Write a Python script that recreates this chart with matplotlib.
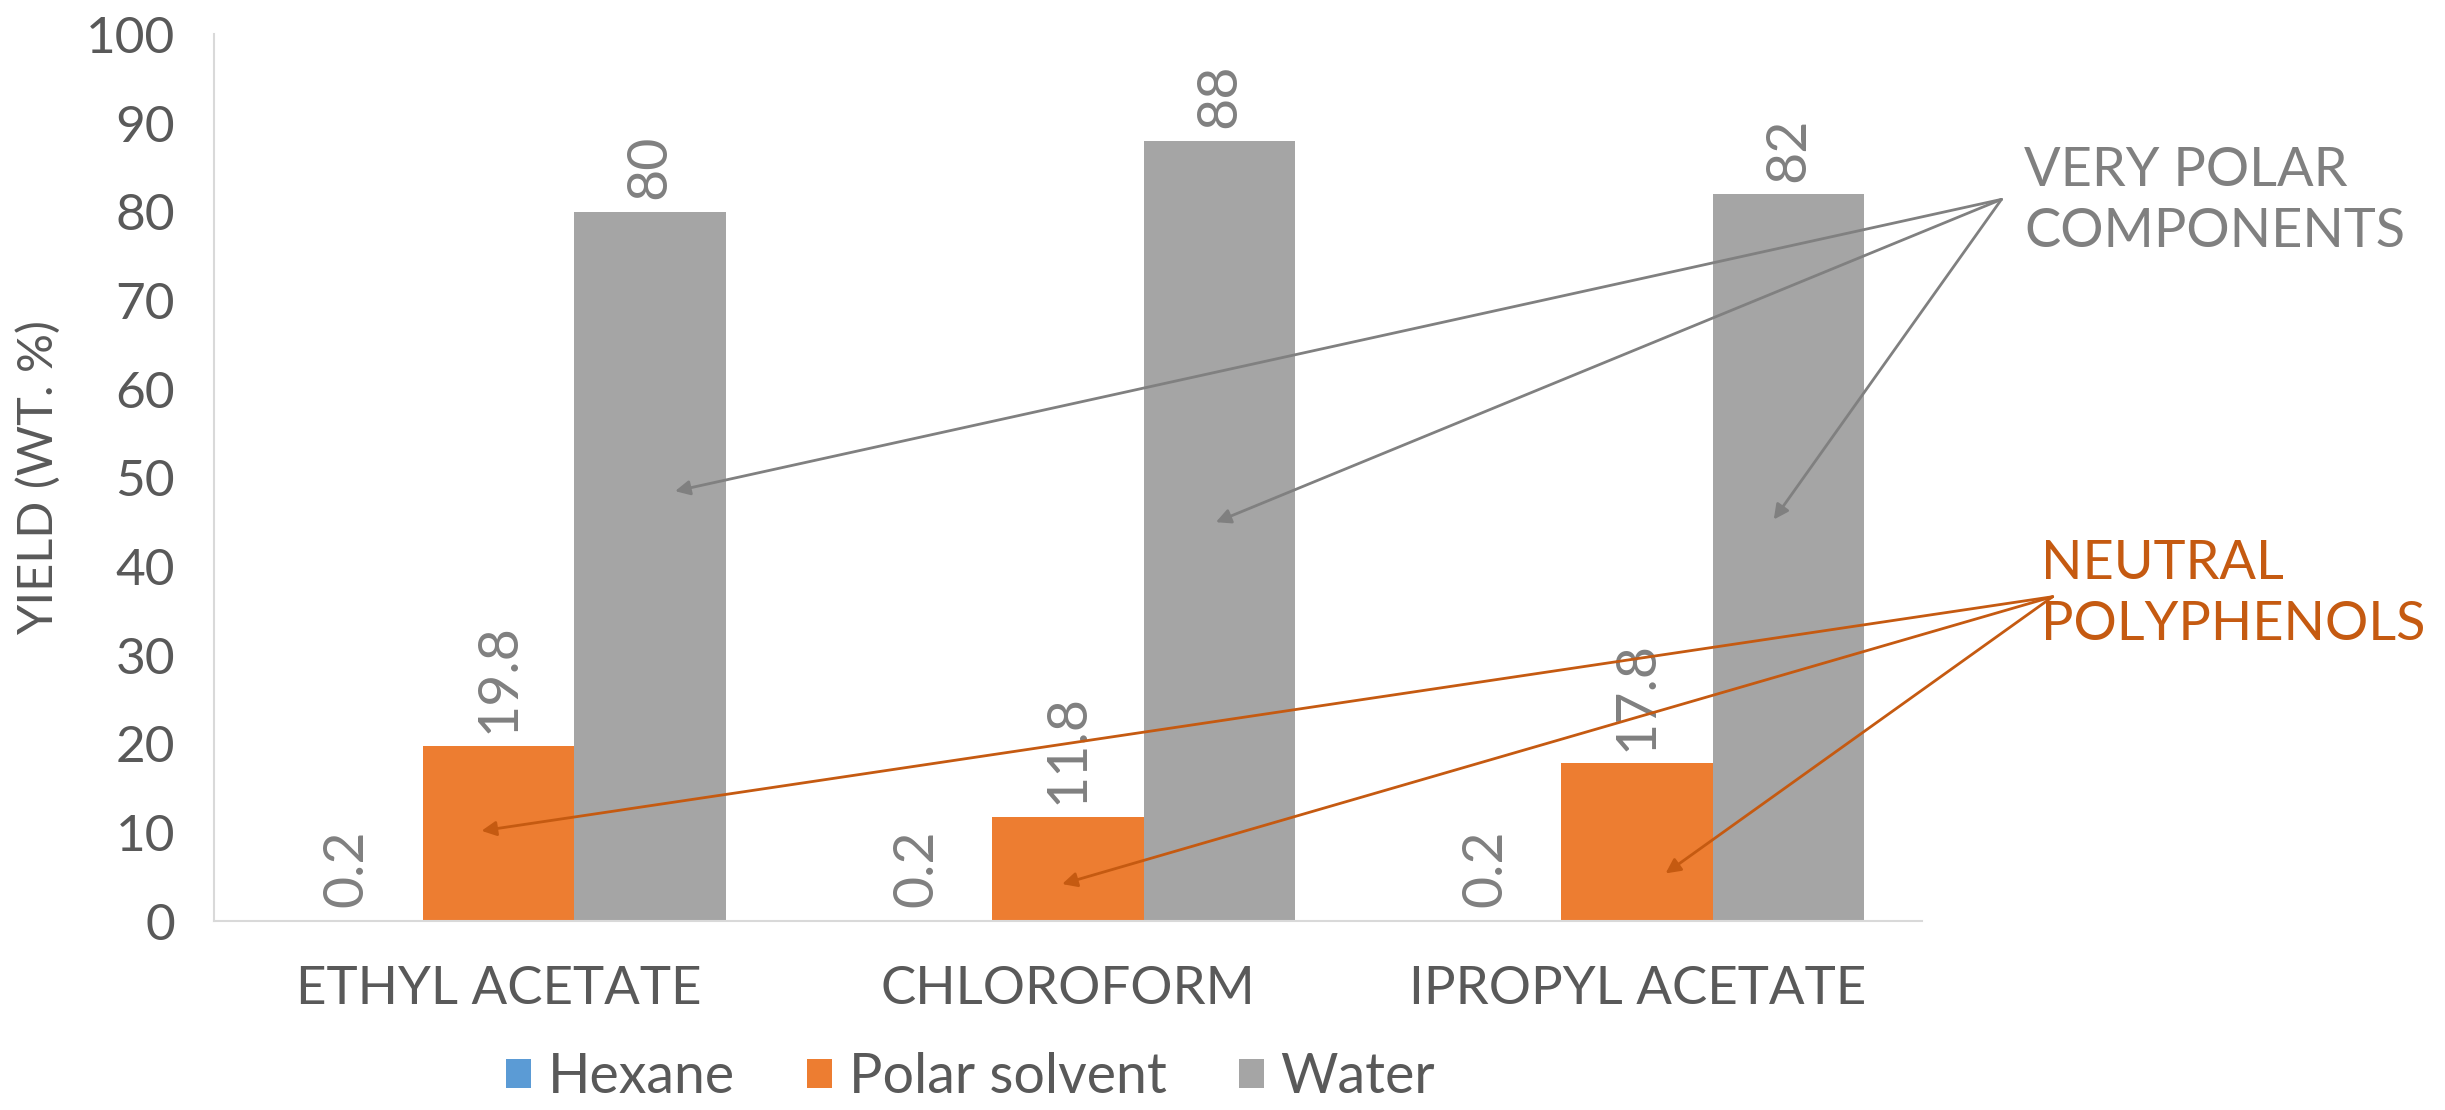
import numpy as np
import matplotlib.pyplot as plt
from matplotlib import font_manager

solvents = ["ETHYL ACETATE", "CHLOROFORM", "IPROPYL ACETATE"]
series = ["Hexane", "Polar solvent", "Water"]
hexane = [0.2, 0.2, 0.2]
polar = [19.8, 11.8, 17.8]
water = [80, 88, 82]
colors = ["#5B9BD5", "#ED7D31", "#A5A5A5"]

# callout arrows, in data units
polar_tips = [(0.31, 48.5), (1.26, 45.0), (2.24, 45.3)]
polar_src = (2.64, 81.4)
phenol_tips = [(-0.03, 10.2), (0.99, 4.2), (2.05, 5.4)]
phenol_src = (2.73, 36.6)

names = {f.name for f in font_manager.fontManager.ttflist}
fam = "Lato" if "Lato" in names else "DejaVu Sans"
plt.rcParams["font.family"] = [fam, "DejaVu Sans"]

fig = plt.figure(figsize=(24.45, 11.1), dpi=100)
ax = fig.add_axes([0.0875, 0.170, 0.6985, 0.799])

x = np.arange(len(solvents))
w = 0.266
for k, (vals, c) in enumerate(zip([hexane, polar, water], colors)):
    bars = ax.bar(x + (k - 1) * w, vals, w, color=c, label=series[k], zorder=2)
    for b, v in zip(bars, vals):
        ax.annotate(f"{v:g}", (b.get_x() + b.get_width() / 2, v),
                    xytext=(0, 9), textcoords="offset points",
                    rotation=90, ha="center", va="bottom",
                    fontsize=40, color="#808080")

ax.set_xlim(-0.5, 2.5)
ax.set_ylim(0, 100)
ax.set_yticks(range(0, 101, 10))
ax.set_xticks(x)
ax.set_xticklabels(solvents, fontsize=38, color="#595959")
ax.tick_params(axis="y", labelsize=37, labelcolor="#595959", length=0, pad=28)
ax.tick_params(axis="x", length=0, pad=32)
for s in ["top", "right"]:
    ax.spines[s].set_visible(False)
for s in ["left", "bottom"]:
    ax.spines[s].set_color("#D9D9D9")
    ax.spines[s].set_linewidth(1.5)
ax.set_ylabel("YIELD (WT. %)", fontsize=35, color="#595959", labelpad=18)

for tip in polar_tips:
    ax.annotate("", xy=tip, xytext=polar_src, annotation_clip=False,
                arrowprops=dict(arrowstyle="-|>", color="#808080", lw=2,
                                mutation_scale=22, shrinkA=0, shrinkB=0))
for tip in phenol_tips:
    ax.annotate("", xy=tip, xytext=phenol_src, annotation_clip=False,
                arrowprops=dict(arrowstyle="-|>", color="#C55A11", lw=2,
                                mutation_scale=22, shrinkA=0, shrinkB=0))

ax.text(2.68, 81.2, "VERY POLAR\nCOMPONENTS", fontsize=39, color="#808080",
        ha="left", va="center", linespacing=1.3, clip_on=False)
ax.text(2.71, 36.9, "NEUTRAL\nPOLYPHENOLS", fontsize=39, color="#C55A11",
        ha="left", va="center", linespacing=1.3, clip_on=False)

fig.legend(loc="center", bbox_to_anchor=(0.397, 0.029), ncol=3, frameon=False,
           fontsize=40, handlelength=0.45, handleheight=0.45, handletextpad=0.3,
           columnspacing=1.3, labelcolor="#595959")

fig.savefig("out.png", dpi=100)
